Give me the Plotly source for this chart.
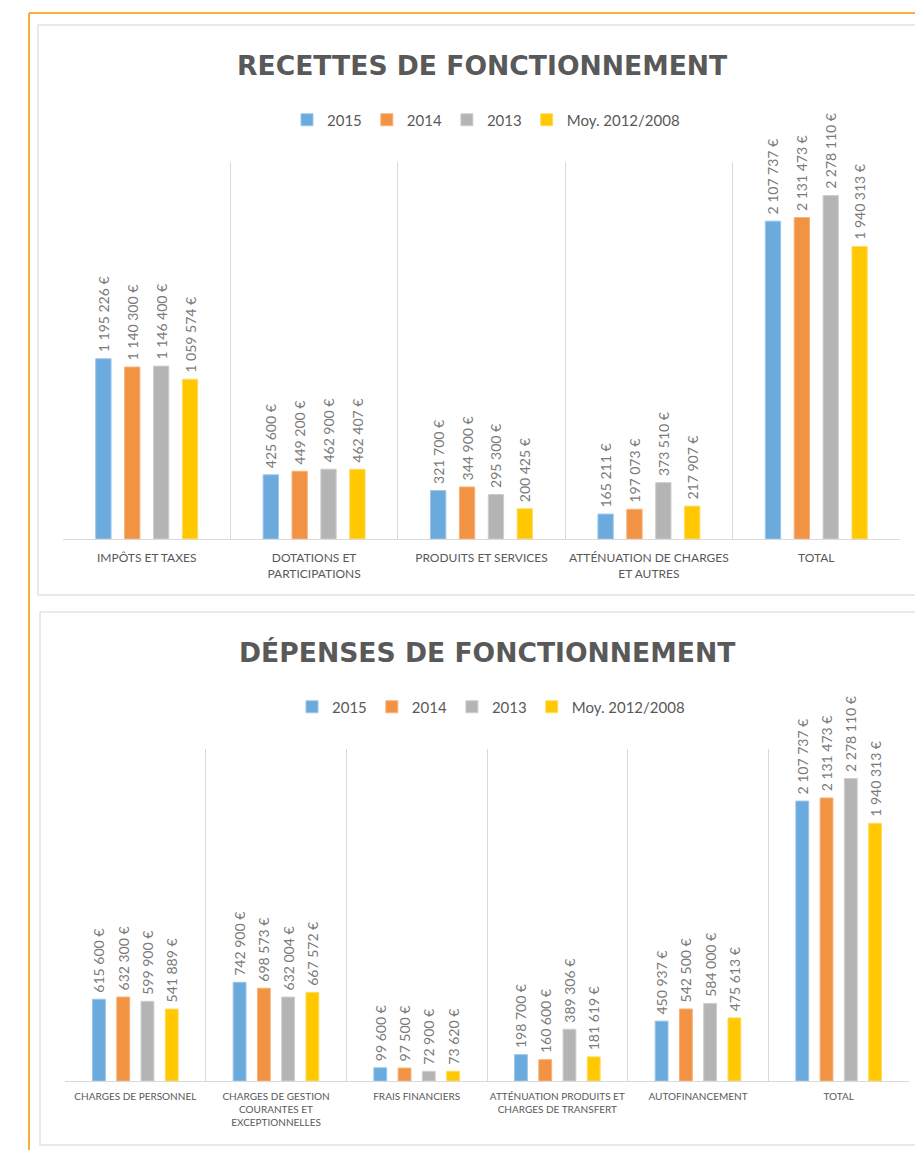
import plotly.graph_objects as go

# ---------- data ----------
series_names = ["2015", "2014", "2013", "Moy. 2012/2008"]
series_colors = ["#6aaadc", "#f29343", "#b4b4b4", "#ffc800"]
series_edges = ["#9cc6ea", "#f7b27a", "#cecece", "#ffdb66"]

rec_categories = ["IMPÔTS ET TAXES", "DOTATIONS ET<br>PARTICIPATIONS", "PRODUITS ET SERVICES",
                  "ATTÉNUATION DE CHARGES<br>ET AUTRES", "TOTAL"]
rec_2015 = [1195226, 425600, 321700, 165211, 2107737]
rec_2014 = [1140300, 449200, 344900, 197073, 2131473]
rec_2013 = [1146400, 462900, 295300, 373510, 2278110]
rec_moy = [1059574, 462407, 200425, 217907, 1940313]

dep_categories = ["CHARGES DE PERSONNEL", "CHARGES DE GESTION<br>COURANTES ET<br>EXCEPTIONNELLES",
                  "FRAIS FINANCIERS", "ATTÉNUATION PRODUITS ET<br>CHARGES DE TRANSFERT",
                  "AUTOFINANCEMENT", "TOTAL"]
dep_2015 = [615600, 742900, 99600, 198700, 450937, 2107737]
dep_2014 = [632300, 698573, 97500, 160600, 542500, 2131473]
dep_2013 = [599900, 632004, 72900, 389306, 584000, 2278110]
dep_moy = [541889, 667572, 73620, 181619, 475613, 1940313]

rec_series = [rec_2015, rec_2014, rec_2013, rec_moy]
dep_series = [dep_2015, dep_2014, dep_2013, dep_moy]

# page body has an 8px margin: figure occupies 8..923 x 8..1150 of the window
OFF = 8
W, H = 923 - OFF, 1158 - 2 * OFF
FONT = "Lato"
TXT = "#595959"
LBL = "#7a7a7a"
GRID = "#d9d9d9"


def px_x(v):
    return (v - OFF) / W


def px_y(v):
    return 1 - (v - OFF) / H


fig = go.Figure()

for name, col, edge, vals in zip(series_names, series_colors, series_edges, rec_series):
    fig.add_trace(go.Bar(
        x=rec_categories, y=vals, name=name, xaxis="x", yaxis="y",
        marker=dict(color=col, line=dict(color=edge, width=1)),
        texttemplate="\u00a0%{y:,.0f} €", textposition="outside", textangle=-90,
        textfont=dict(family=FONT, size=14, color=LBL), constraintext="none",
        cliponaxis=False, legend="legend", hoverinfo="skip",
    ))

for name, col, edge, vals in zip(series_names, series_colors, series_edges, dep_series):
    fig.add_trace(go.Bar(
        x=dep_categories, y=vals, name=name, xaxis="x2", yaxis="y2",
        marker=dict(color=col, line=dict(color=edge, width=1)),
        texttemplate="\u00a0%{y:,.0f} €", textposition="outside", textangle=-90,
        textfont=dict(family=FONT, size=14, color=LBL), constraintext="none",
        cliponaxis=False, legend="legend2", hoverinfo="skip",
    ))

xaxis_common = dict(type="category", tickson="boundaries", showgrid=True, gridcolor=GRID,
                    gridwidth=1, showline=True, linecolor=GRID, linewidth=1, ticks="",
                    fixedrange=True, tickangle=0)
yaxis_common = dict(range=[0, 2500000], showgrid=False, zeroline=False, showticklabels=False,
                    showline=False, fixedrange=True)

fig.update_layout(
    width=W, height=H,
    margin=dict(l=0, r=0, t=0, b=0),
    paper_bgcolor="white", plot_bgcolor="white",
    separators=", ",
    barmode="group", bargap=0.31, bargroupgap=0.47,
    font=dict(family=FONT, color=TXT),
    xaxis=dict(domain=[px_x(63), px_x(900)], anchor="y", ticklabelstandoff=8,
               tickfont=dict(family=FONT, size=12, color=TXT), **xaxis_common),
    yaxis=dict(domain=[px_y(539), px_y(162)], anchor="x", **yaxis_common),
    xaxis2=dict(domain=[px_x(65), px_x(909)], anchor="y2", ticklabelstandoff=6,
                tickfont=dict(family=FONT, size=10, color=TXT), **xaxis_common),
    yaxis2=dict(domain=[px_y(1081), px_y(749)], anchor="x2", **yaxis_common),
    legend=dict(orientation="h", x=px_x(486), y=px_y(120), xanchor="center", yanchor="middle",
                font=dict(family=FONT, size=15, color=TXT), bgcolor="rgba(0,0,0,0)",
                itemclick=False, itemdoubleclick=False, traceorder="normal"),
    legend2=dict(orientation="h", x=px_x(491), y=px_y(707), xanchor="center", yanchor="middle",
                 font=dict(family=FONT, size=15, color=TXT), bgcolor="rgba(0,0,0,0)",
                 itemclick=False, itemdoubleclick=False, traceorder="normal"),
    showlegend=True,
)

fig.add_annotation(text="<b>RECETTES DE FONCTIONNEMENT</b>", xref="paper", yref="paper",
                   x=px_x(482), y=px_y(65), xanchor="center", yanchor="middle", showarrow=False,
                   font=dict(family="DejaVu Sans", size=26.6, color=TXT))
fig.add_annotation(text="<b>DÉPENSES DE FONCTIONNEMENT</b>", xref="paper", yref="paper",
                   x=px_x(487), y=px_y(652), xanchor="center", yanchor="middle", showarrow=False,
                   font=dict(family="DejaVu Sans", size=26.6, color=TXT))

# panel frames
fig.add_shape(type="rect", xref="paper", yref="paper", x0=px_x(38), x1=1.05,
              y0=px_y(595), y1=px_y(25), line=dict(color="#e3e3e3", width=1.5), layer="below")
fig.add_shape(type="rect", xref="paper", yref="paper", x0=px_x(40), x1=1.05,
              y0=px_y(1145), y1=px_y(612), line=dict(color="#e3e3e3", width=1.5), layer="below")
# orange outer frame
fig.add_shape(type="line", xref="paper", yref="paper", x0=px_x(29), x1=px_x(29),
              y0=-0.02, y1=px_y(13), line=dict(color="#f6b042", width=2))
fig.add_shape(type="line", xref="paper", yref="paper", x0=px_x(29), x1=1.05,
              y0=px_y(13), y1=px_y(13), line=dict(color="#f6b042", width=2))

fig.write_html("out.html")
